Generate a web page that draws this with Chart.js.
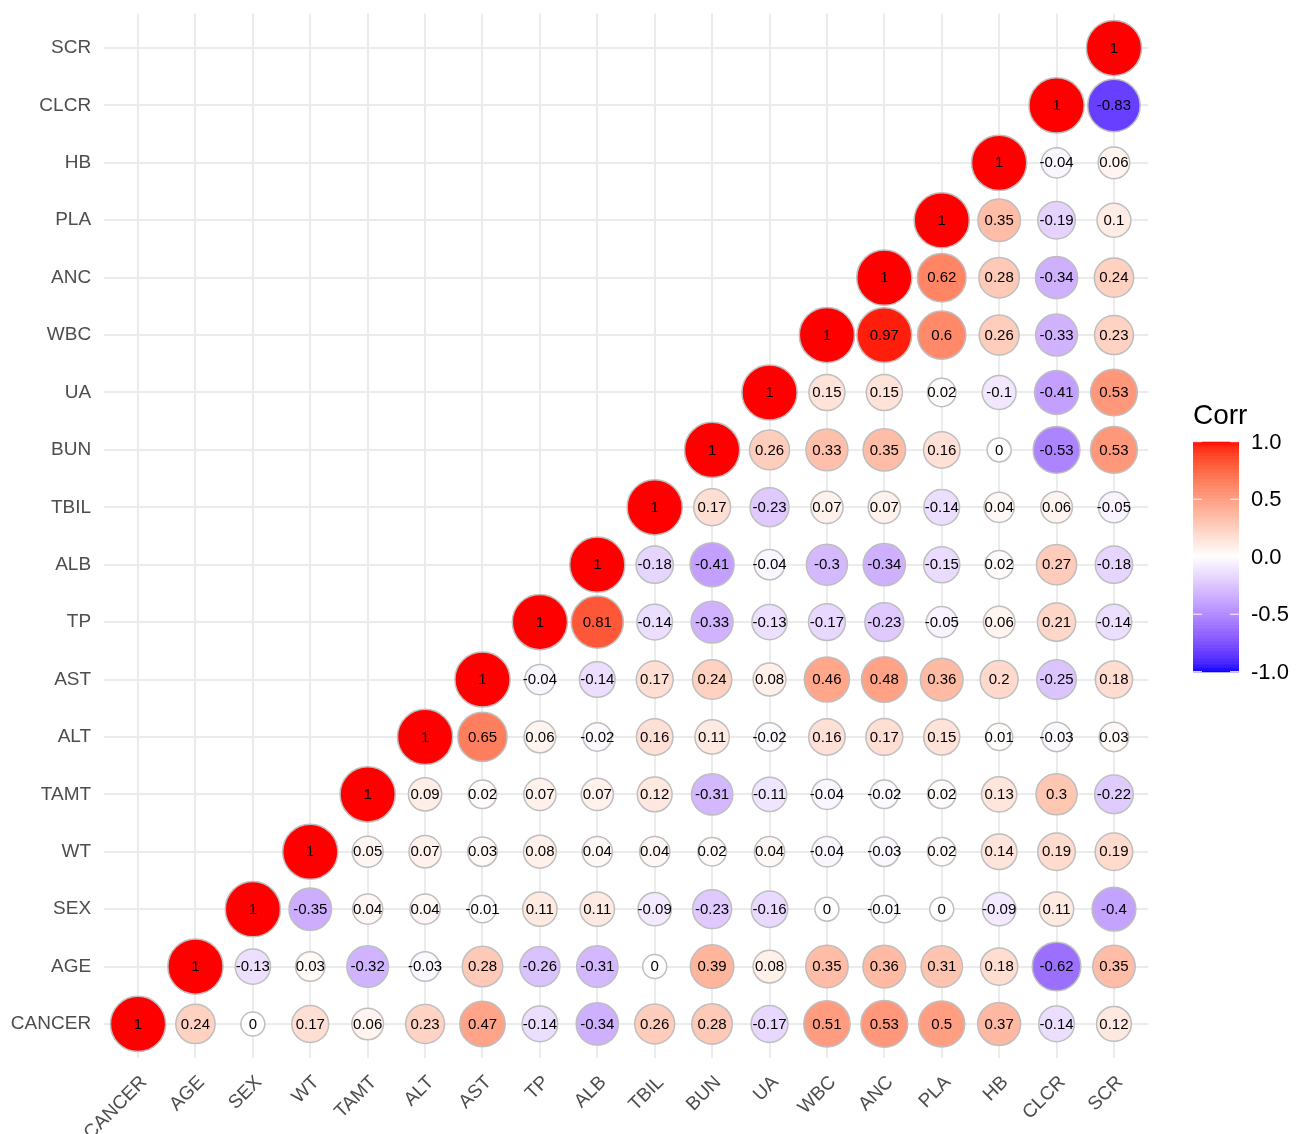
<!DOCTYPE html>
<html>
<head>
<meta charset="utf-8">
<title>Correlation matrix</title>
<script src="https://cdn.jsdelivr.net/npm/chart.js@4.4.1/dist/chart.umd.min.js"></script>
<style>
  html, body { margin: 0; padding: 0; background: #ffffff; }
  canvas { display: block; }
</style>
</head>
<body>
<canvas id="corr" width="1296" height="1134"></canvas>
<script>
// Variable names, in axis order (bottom-to-top on y, left-to-right on x)
const vars = ["CANCER", "AGE", "SEX", "WT", "TAMT", "ALT", "AST", "TP", "ALB", "TBIL",
              "BUN", "UA", "WBC", "ANC", "PLA", "HB", "CLCR", "SCR"];

// Correlations of each row variable with itself and every variable to its right
const rowCANCER = [1, 0.24, 0, 0.17, 0.06, 0.23, 0.47, -0.14, -0.34, 0.26, 0.28, -0.17, 0.51, 0.53, 0.5, 0.37, -0.14, 0.12];
const rowAGE    = [1, -0.13, 0.03, -0.32, -0.03, 0.28, -0.26, -0.31, 0, 0.39, 0.08, 0.35, 0.36, 0.31, 0.18, -0.62, 0.35];
const rowSEX    = [1, -0.35, 0.04, 0.04, -0.01, 0.11, 0.11, -0.09, -0.23, -0.16, 0, -0.01, 0, -0.09, 0.11, -0.4];
const rowWT     = [1, 0.05, 0.07, 0.03, 0.08, 0.04, 0.04, 0.02, 0.04, -0.04, -0.03, 0.02, 0.14, 0.19, 0.19];
const rowTAMT   = [1, 0.09, 0.02, 0.07, 0.07, 0.12, -0.31, -0.11, -0.04, -0.02, 0.02, 0.13, 0.3, -0.22];
const rowALT    = [1, 0.65, 0.06, -0.02, 0.16, 0.11, -0.02, 0.16, 0.17, 0.15, 0.01, -0.03, 0.03];
const rowAST    = [1, -0.04, -0.14, 0.17, 0.24, 0.08, 0.46, 0.48, 0.36, 0.2, -0.25, 0.18];
const rowTP     = [1, 0.81, -0.14, -0.33, -0.13, -0.17, -0.23, -0.05, 0.06, 0.21, -0.14];
const rowALB    = [1, -0.18, -0.41, -0.04, -0.3, -0.34, -0.15, 0.02, 0.27, -0.18];
const rowTBIL   = [1, 0.17, -0.23, 0.07, 0.07, -0.14, 0.04, 0.06, -0.05];
const rowBUN    = [1, 0.26, 0.33, 0.35, 0.16, 0, -0.53, 0.53];
const rowUA     = [1, 0.15, 0.15, 0.02, -0.1, -0.41, 0.53];
const rowWBC    = [1, 0.97, 0.6, 0.26, -0.33, 0.23];
const rowANC    = [1, 0.62, 0.28, -0.34, 0.24];
const rowPLA    = [1, 0.35, -0.19, 0.1];
const rowHB     = [1, -0.04, 0.06];
const rowCLCR   = [1, -0.83];
const rowSCR    = [1];

const rows = [rowCANCER, rowAGE, rowSEX, rowWT, rowTAMT, rowALT, rowAST, rowTP, rowALB,
              rowTBIL, rowBUN, rowUA, rowWBC, rowANC, rowPLA, rowHB, rowCLCR, rowSCR];

// Colour bar breaks
const legendBreaks = [1, 0.5, 0, -0.5, -1];
const legendLabels = ["1.0", "0.5", "0.0", "-0.5", "-1.0"];

// ---- colour scale: blue -> white -> red, interpolated in CIE Lab ----
function toLab(rgb) {
  const lin = c => { c /= 255; return c <= 0.04045 ? c / 12.92 : Math.pow((c + 0.055) / 1.055, 2.4); };
  const R = lin(rgb[0]), G = lin(rgb[1]), B = lin(rgb[2]);
  const X = (R * 0.4124564 + G * 0.3575761 + B * 0.1804375) / 0.95047;
  const Y = (R * 0.2126729 + G * 0.7151522 + B * 0.0721750);
  const Z = (R * 0.0193339 + G * 0.1191920 + B * 0.9503041) / 1.08883;
  const f = t => t > 216 / 24389 ? Math.cbrt(t) : (24389 / 27 * t + 16) / 116;
  const fx = f(X), fy = f(Y), fz = f(Z);
  return [116 * fy - 16, 500 * (fx - fy), 200 * (fy - fz)];
}
function fromLab(lab) {
  const fy = (lab[0] + 16) / 116, fx = fy + lab[1] / 500, fz = fy - lab[2] / 200;
  const inv = t => (t * t * t > 216 / 24389) ? t * t * t : (116 * t - 16) / (24389 / 27);
  const X = inv(fx) * 0.95047, Y = inv(fy), Z = inv(fz) * 1.08883;
  const R =  3.2404542 * X - 1.5371385 * Y - 0.4985314 * Z;
  const G = -0.9692660 * X + 1.8760108 * Y + 0.0415560 * Z;
  const B =  0.0556434 * X - 0.2040259 * Y + 1.0572252 * Z;
  const g = c => {
    c = c <= 0.0031308 ? 12.92 * c : 1.055 * Math.pow(c, 1 / 2.4) - 0.055;
    return Math.round(Math.max(0, Math.min(1, c)) * 255);
  };
  return [g(R), g(G), g(B)];
}
const LAB_LOW = toLab([0, 0, 255]);
const LAB_MID = toLab([255, 255, 255]);
const LAB_HIGH = toLab([255, 0, 0]);
function corrColor(v) {
  const end = v < 0 ? LAB_LOW : LAB_HIGH;
  const t = Math.min(1, Math.abs(v));
  const lab = [0, 1, 2].map(i => LAB_MID[i] + (end[i] - LAB_MID[i]) * t);
  const c = fromLab(lab);
  return `rgb(${c[0]},${c[1]},${c[2]})`;
}

// Circle size grows with sqrt(|r|)
function circleRadius(v) {
  const outer = 25.5 + 31.2 * Math.sqrt(Math.abs(v));
  return outer / 2 - 0.75;
}

// Build points: row j, k-th entry sits at column j + k
const points = [];
rows.forEach((row, j) => {
  row.forEach((v, k) => points.push({ x: j + k, y: j, v: v }));
});

const FONT = "'Liberation Sans', Arial, Helvetica, sans-serif";

// Value labels printed inside each circle
const cellLabels = {
  id: 'cellLabels',
  afterDatasetsDraw(chart) {
    const ctx = chart.ctx;
    const meta = chart.getDatasetMeta(0);
    ctx.save();
    ctx.fillStyle = '#000000';
    ctx.font = `15px ${FONT}`;
    ctx.textAlign = 'center';
    ctx.textBaseline = 'middle';
    meta.data.forEach((el, i) => {
      ctx.fillText(String(points[i].v), el.x, el.y + 0.5);
    });
    ctx.restore();
  }
};

// Colour bar legend on the right
const colorBar = {
  id: 'colorBar',
  afterDraw(chart) {
    const ctx = chart.ctx;
    const x0 = 1193, x1 = 1239, yTop = 441.7, yBot = 671.7;
    const yOf = v => yTop + (1 - v) / 2 * (yBot - yTop);
    ctx.save();
    ctx.fillStyle = '#000000';
    ctx.font = `28px ${FONT}`;
    ctx.textAlign = 'left';
    ctx.textBaseline = 'alphabetic';
    ctx.fillText('Corr', 1193, 423.5);

    const steps = 300;
    for (let i = 0; i < steps; i++) {
      const v = 1 - 2 * (i + 0.5) / steps;
      const ya = yTop + i * (yBot - yTop) / steps;
      ctx.fillStyle = corrColor(v);
      ctx.fillRect(x0, ya, x1 - x0, (yBot - yTop) / steps + 0.6);
    }
    ctx.strokeStyle = '#ffffff';
    ctx.lineWidth = 1;
    legendBreaks.forEach(b => {
      const y = yOf(b);
      ctx.beginPath();
      ctx.moveTo(x0, y); ctx.lineTo(x0 + 9, y);
      ctx.moveTo(x1 - 9, y); ctx.lineTo(x1, y);
      ctx.stroke();
    });

    ctx.fillStyle = '#000000';
    ctx.font = `22px ${FONT}`;
    ctx.textBaseline = 'middle';
    legendBreaks.forEach((b, i) => ctx.fillText(legendLabels[i], 1251, yOf(b) + 1));
    ctx.restore();
  }
};

const axisTicks = {
  color: '#4D4D4D',
  font: { family: FONT, size: 19 },
  autoSkip: false,
  callback: v => vars[v]
};

new Chart(document.getElementById('corr'), {
  type: 'scatter',
  data: {
    datasets: [{
      data: points,
      pointRadius: ctx => circleRadius(ctx.raw.v),
      pointBackgroundColor: ctx => corrColor(ctx.raw.v),
      pointBorderColor: '#BEBEBE',
      pointBorderWidth: 1.5,
      clip: false
    }]
  },
  options: {
    responsive: false,
    animation: false,
    events: [],
    devicePixelRatio: 1,
    layout: { autoPadding: false, padding: { left: 0, right: 147.6, top: 13.6, bottom: 0 } },
    plugins: { legend: { display: false }, tooltip: { enabled: false } },
    scales: {
      x: {
        type: 'linear',
        position: 'bottom',
        min: -0.6, max: 17.6,
        afterBuildTicks: s => { s.ticks = vars.map((_, i) => ({ value: i })); },
        afterFit: s => { s.height = 75.6; s.paddingLeft = 0; s.paddingRight = 0; },
        grid: { color: '#EBEBEB', lineWidth: 2, drawTicks: false },
        border: { display: false },
        ticks: Object.assign({}, axisTicks, { minRotation: 45, maxRotation: 45, padding: 13, labelOffset: 6 })
      },
      y: {
        type: 'linear',
        position: 'left',
        min: -0.6, max: 17.6,
        afterBuildTicks: s => { s.ticks = vars.map((_, i) => ({ value: i })); },
        afterFit: s => { s.width = 103.6; s.paddingTop = 0; s.paddingBottom = 0; },
        grid: { color: '#EBEBEB', lineWidth: 2, drawTicks: false },
        border: { display: false },
        ticks: Object.assign({}, axisTicks, { padding: 12.5 })
      }
    }
  },
  plugins: [cellLabels, colorBar]
});
</script>
</body>
</html>
